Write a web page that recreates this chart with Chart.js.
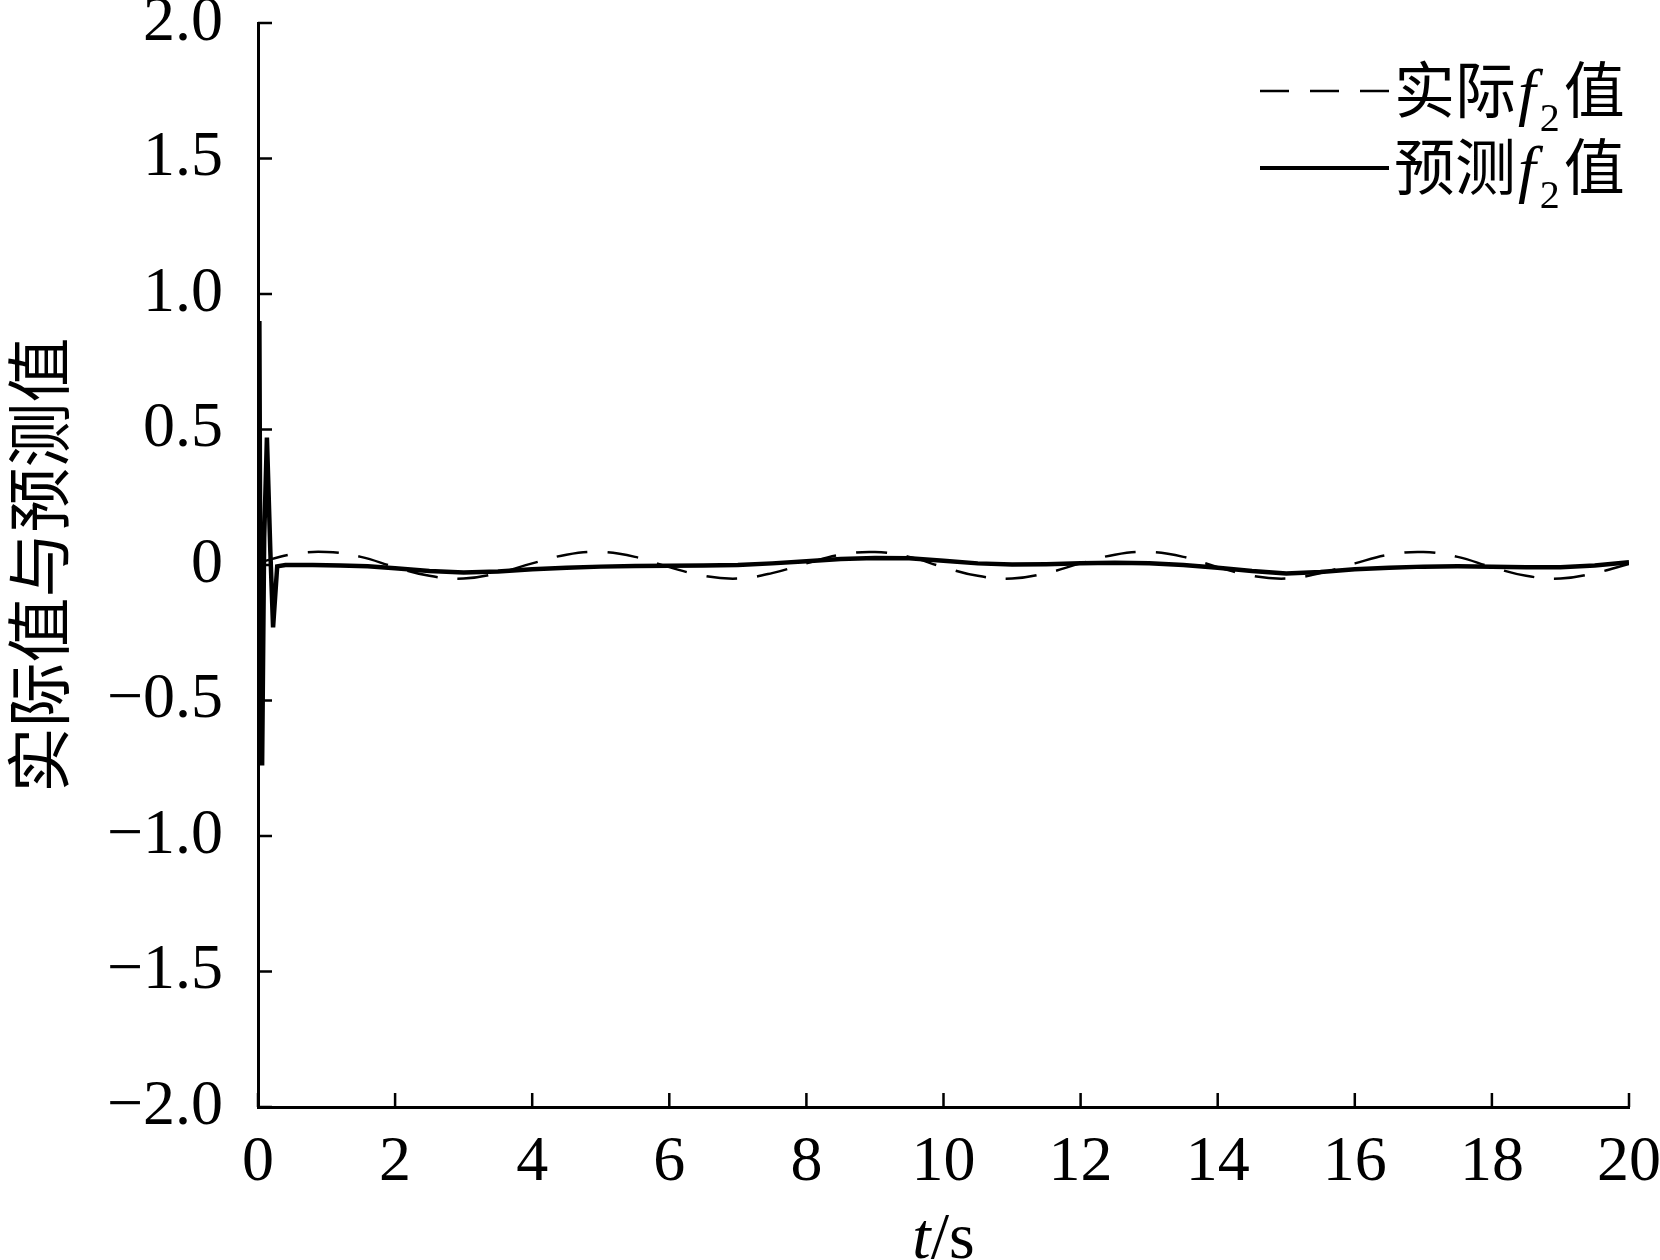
<!DOCTYPE html>
<html>
<head>
<meta charset="utf-8">
<script src="https://cdn.jsdelivr.net/npm/chart.js@4.4.1/dist/chart.umd.min.js"></script>
<style>
  html, body { margin: 0; padding: 0; background: #fff; }
  canvas { display: block; }
</style>
</head>
<body>
<canvas id="chart" width="1660" height="1260"></canvas>
<script>
// measured f2 (dashed), sampled every 0.5 s
var actualTime = [0, 0.5, 1, 1.5, 2, 2.5, 3, 3.5, 4, 4.5, 5, 5.5, 6, 6.5, 7, 7.5, 8, 8.5, 9, 9.5,
    10, 10.5, 11, 11.5, 12, 12.5, 13, 13.5, 14, 14.5, 15, 15.5, 16, 16.5, 17, 17.5, 18, 18.5, 19, 19.5, 20];
var actualF2 = [0.008, 0.040, 0.048, 0.030, -0.008, -0.040, -0.050, -0.030, 0.006, 0.038, 0.048, 0.030, -0.008, -0.040, -0.050, -0.030,
    0.006, 0.038, 0.048, 0.030, -0.008, -0.040, -0.050, -0.030, 0.006, 0.038, 0.048, 0.030, -0.008, -0.040, -0.050, -0.030,
    0.006, 0.038, 0.048, 0.030, -0.008, -0.040, -0.050, -0.030, 0.004];

// predicted f2 (solid), denser at the start transient
var predTime = [0, 0.02, 0.04, 0.06, 0.09, 0.13, 0.18, 0.22, 0.28, 0.4, 0.8, 1.2, 1.6, 2, 2.5, 3, 3.5, 4, 4.5, 5, 5.5, 6, 6.5, 7, 7.5,
    8, 8.5, 9, 9.5, 10, 10.5, 11, 11.5, 12, 12.5, 13, 13.5, 14, 14.5, 15, 15.5, 16, 16.5, 17, 17.5, 18, 18.5, 19, 19.5, 20];
var predF2 = [0.30, 0.90, -0.50, -0.74, 0.10, 0.47, 0.05, -0.23, -0.005, 0.0, 0.0, -0.002, -0.005, -0.012, -0.022, -0.028, -0.024, -0.016, -0.010, -0.006, -0.004, -0.003, -0.002, 0.0, 0.006,
    0.014, 0.022, 0.026, 0.025, 0.016, 0.006, 0.002, 0.003, 0.006, 0.008, 0.006, 0.0, -0.010, -0.022, -0.031, -0.026, -0.016, -0.010, -0.006, -0.005, -0.006, -0.008, -0.008, -0.002, 0.010];

var seriesLabels = ["实际f2值", "预测f2值"];
var yTitle = "实际值与预测值";

var SERIF = "'Liberation Serif', 'Times New Roman', serif";
var CJK = "'Noto Sans CJK SC', sans-serif";
var TICK = 14;

/* zip two arrays into {x, y} points */
var toPoints = function (xs, ys) {
    return xs.map(function (x, i) { return {x: x, y: ys[i]}; });
};

/* text with italic f and subscript 2 */
var drawF2Label = function (ctx, label, x, baseline) {
    var parts = label.split("f2");
    ctx.font = "61px " + CJK;
    ctx.fillText(parts[0], x, baseline);
    x += ctx.measureText(parts[0]).width + 2;
    ctx.font = "italic 64px " + SERIF;
    ctx.fillText("f", x, baseline);
    x += ctx.measureText("f").width + 4;
    ctx.font = "40px " + SERIF;
    ctx.fillText("2", x, baseline + 18);
    x += ctx.measureText("2").width + 4;
    ctx.font = "61px " + CJK;
    ctx.fillText(parts[1], x, baseline);
};

var decorations = {
    id: "decorations",
    afterDraw: function (chart) {
        var ctx = chart.ctx;
        var xs = chart.scales.x, ys = chart.scales.y, a = chart.chartArea;
        ctx.save();

        /* inward tick marks */
        ctx.strokeStyle = "#000";
        ctx.lineWidth = 2.5;
        ctx.beginPath();
        xs.ticks.forEach(function (t) {
            var px = xs.getPixelForValue(t.value);
            ctx.moveTo(px, a.bottom);
            ctx.lineTo(px, a.bottom - TICK);
        });
        ys.ticks.forEach(function (t) {
            var py = ys.getPixelForValue(t.value);
            ctx.moveTo(a.left, py);
            ctx.lineTo(a.left + TICK, py);
        });
        ctx.stroke();

        ctx.fillStyle = "#000";
        ctx.textBaseline = "alphabetic";

        /* x title t/s */
        ctx.font = "italic 66px " + SERIF;
        var wT = ctx.measureText("t").width;
        ctx.font = "66px " + SERIF;
        var wS = ctx.measureText("/s").width;
        var cx = (a.left + a.right) / 2 - (wT + wS) / 2;
        ctx.font = "italic 66px " + SERIF;
        ctx.fillText("t", cx, 1258);
        ctx.font = "66px " + SERIF;
        ctx.fillText("/s", cx + wT, 1258);

        /* y title */
        ctx.save();
        ctx.translate(38, (a.top + a.bottom) / 2);
        ctx.rotate(-Math.PI / 2);
        ctx.textAlign = "center";
        ctx.textBaseline = "middle";
        ctx.font = "65px " + CJK;
        ctx.fillText(yTitle, 0, 0);
        ctx.restore();

        /* legend */
        var rows = [91, 168];
        chart.data.datasets.forEach(function (ds, i) {
            ctx.save();
            ctx.strokeStyle = "#000";
            ctx.lineWidth = i === 0 ? 2.5 : 4;
            ctx.setLineDash(i === 0 ? [29, 21] : []);
            ctx.beginPath();
            ctx.moveTo(1260, rows[i]);
            ctx.lineTo(1389, rows[i]);
            ctx.stroke();
            ctx.restore();
            drawF2Label(ctx, ds.label, 1394, rows[i] + 22);
        });

        ctx.restore();
    }
};

var chart = new Chart(document.getElementById("chart"), {
    type: "line",
    data: {
        datasets: [{
            label: seriesLabels[0],
            data: toPoints(actualTime, actualF2),
            borderColor: "#000",
            borderWidth: 2.5,
            borderDash: [31, 20],
            tension: 0.4,
            pointRadius: 0,
            fill: false
        }, {
            label: seriesLabels[1],
            data: toPoints(predTime, predF2),
            borderColor: "#000",
            borderWidth: 4.5,
            tension: 0,
            pointRadius: 0,
            fill: false
        }]
    },
    options: {
        responsive: false,
        animation: false,
        devicePixelRatio: 1,
        layout: {padding: {top: 23, right: 31, left: 0, bottom: 0}},
        plugins: {legend: {display: false}, tooltip: {enabled: false}},
        scales: {
            x: {
                type: "linear",
                min: 0,
                max: 20,
                grid: {display: false},
                border: {display: true, color: "#000", width: 3},
                ticks: {
                    stepSize: 2,
                    color: "#000",
                    padding: 16,
                    maxRotation: 0,
                    font: {family: SERIF, size: 64, lineHeight: 1}
                },
                afterFit: function (s) {
                    s.height = 153;
                    s.paddingLeft = 0;
                    s.paddingRight = 0;
                }
            },
            y: {
                type: "linear",
                min: -2,
                max: 2,
                grid: {display: false},
                border: {display: true, color: "#000", width: 3},
                ticks: {
                    stepSize: 0.5,
                    color: "#000",
                    padding: 27,
                    font: {family: SERIF, size: 64, lineHeight: 1},
                    callback: function (v) {
                        if (v === 0) return "0";
                        return (v < 0 ? "\u2212" : "") + Math.abs(v).toFixed(1);
                    }
                },
                afterFit: function (s) {
                    s.width = 258;
                    s.paddingTop = 0;
                    s.paddingBottom = 0;
                }
            }
        }
    },
    plugins: [decorations]
});
</script>
</body>
</html>
